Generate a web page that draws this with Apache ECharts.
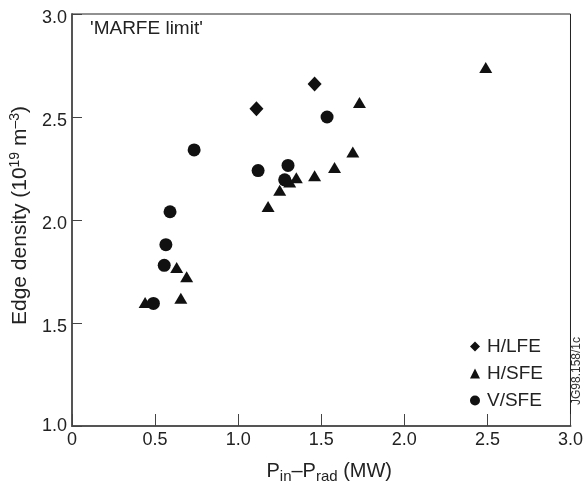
<!DOCTYPE html>
<html><head><meta charset="utf-8">
<script src="https://cdn.jsdelivr.net/npm/echarts@6/dist/echarts.min.js"></script>
<style>html,body{margin:0;padding:0;background:#fff}#c{width:586px;height:489px}</style>
</head><body><div id="c"></div>
<script>
const seriesNames = ['H/LFE', 'H/SFE', 'V/SFE'];
const hlfeX = [1.11, 1.46];
const hlfeY = [2.54, 2.66];
const hsfeX = [0.44, 0.63, 0.69, 0.655, 1.18, 1.25, 1.31, 1.35, 1.46, 1.58, 1.69, 1.73, 2.49];
const hsfeY = [1.60, 1.77, 1.725, 1.62, 2.065, 2.145, 2.185, 2.205, 2.215, 2.255, 2.33, 2.57, 2.74];
const vsfeX = [0.49, 0.555, 0.565, 0.59, 0.735, 1.12, 1.28, 1.30, 1.535];
const vsfeY = [1.595, 1.78, 1.88, 2.04, 2.34, 2.24, 2.195, 2.265, 2.50];
const xTicks = [0, 0.5, 1.0, 1.5, 2.0, 2.5, 3.0];
const yTicks = [1.0, 1.5, 2.0, 2.5, 3.0];

const pairs = (xs, ys) => xs.map((x, i) => [x, ys[i]]);
const font = 'Liberation Sans, Arial, sans-serif';
const ink = '#111';
const txt = '#222';
const chart = echarts.init(document.getElementById('c'), null, {renderer: 'canvas'});
chart.setOption({
  animation: false,
  backgroundColor: '#fff',
  textStyle: {fontFamily: font},
  grid: {left: 72, right: 15, top: 14, bottom: 61, show: true, borderColor: '#222', borderWidth: 1},
  xAxis: {
    type: 'value', min: 0, max: 3, interval: 0.5,
    axisLine: {lineStyle: {color: '#555', width: 2}},
    axisTick: {inside: true, length: 12, lineStyle: {color: '#444', width: 1}},
    splitLine: {show: false},
    axisLabel: {color: txt, fontSize: 18, margin: 5, fontFamily: font,
      formatter: v => { const t = xTicks.find(a => Math.abs(a - v) < 1e-9); return t === 0 ? '0' : t.toFixed(1); }},
    name: 'P{sub|in}–P{sub|rad} (MW)',
    nameLocation: 'middle', nameGap: 33,
    nameTextStyle: {color: txt, fontSize: 20, fontFamily: font, padding: [0, 0, 0, 16],
      rich: {sub: {fontSize: 15, fontFamily: font, color: txt, padding: [10, 0, 0, 0]}}}
  },
  yAxis: {
    type: 'value', min: 1, max: 3, interval: 0.5,
    axisLine: {lineStyle: {color: '#555', width: 2}},
    axisTick: {inside: true, length: 10, lineStyle: {color: '#444', width: 1}},
    splitLine: {show: false},
    axisLabel: {color: txt, fontSize: 18, margin: 5, fontFamily: font,
      formatter: v => { const t = yTicks.find(a => Math.abs(a - v) < 1e-9); return t === 1 ? '{b|' + t.toFixed(1) + '}' : '{a|' + t.toFixed(1) + '}'; },
      rich: {a: {fontSize: 18, fontFamily: font, color: txt, padding: [9, 0, 0, 0]},
             b: {fontSize: 18, fontFamily: font, color: txt, padding: [0, 0, 0, 0]}}},
    name: 'Edge density (10{sup|19} m{sup|–3})',
    nameLocation: 'middle', nameGap: 34,
    nameTextStyle: {color: txt, fontSize: 21, fontFamily: font, padding: [0, 0, 0, 9],
      rich: {sup: {fontSize: 14, fontFamily: font, color: txt, padding: [0, 0, 11, 0]}}}
  },
  legend: {
    orient: 'vertical', left: 465, top: 332, itemGap: 8,
    itemWidth: 10, itemHeight: 10,
    textStyle: {fontSize: 19, color: txt, fontFamily: font, padding: [0, 0, 0, 2]},
    data: [
      {name: seriesNames[0], icon: 'diamond'},
      {name: seriesNames[1], icon: 'triangle'},
      {name: seriesNames[2], icon: 'circle'}
    ]
  },
  graphic: [
    {type: 'text', left: 90, top: 19, style: {text: "'MARFE limit'", font: '19px ' + font, fill: txt}},
    {type: 'text', x: 583, y: 405, rotation: Math.PI / 2,
      style: {text: 'JG98.158/1c', font: '12px ' + font, fill: '#333', textAlign: 'left', textVerticalAlign: 'bottom'}}
  ],
  series: [
    {name: seriesNames[0], type: 'scatter', symbol: 'diamond', symbolSize: [14, 15],
      itemStyle: {color: ink, opacity: 1}, data: pairs(hlfeX, hlfeY)},
    {name: seriesNames[1], type: 'scatter', symbol: 'triangle', symbolSize: [13, 11],
      itemStyle: {color: ink, opacity: 1}, data: pairs(hsfeX, hsfeY)},
    {name: seriesNames[2], type: 'scatter', symbol: 'circle', symbolSize: 13,
      itemStyle: {color: ink, opacity: 1}, data: pairs(vsfeX, vsfeY)}
  ]
});
</script></body></html>
